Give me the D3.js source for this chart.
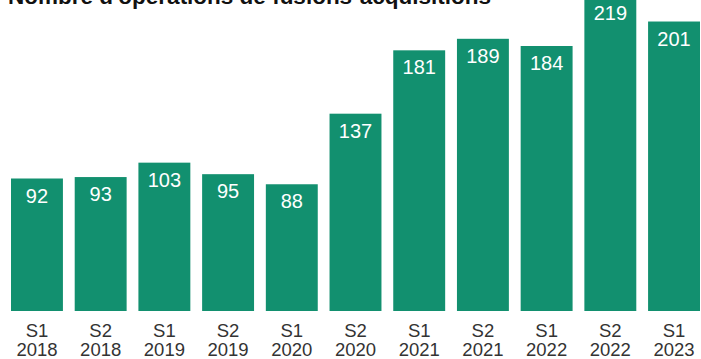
<!DOCTYPE html>
<html>
<head>
<meta charset="utf-8">
<script src="https://cdn.jsdelivr.net/npm/d3@7"></script>
<style>
  html, body { margin: 0; padding: 0; background: #fff; }
  svg { display: block; }
</style>
</head>
<body>
<svg id="chart" width="701" height="359"></svg>
<script>
// Semesters and deal counts
const semesters = ["S1", "S2", "S1", "S2", "S1", "S2", "S1", "S2", "S1", "S2", "S1"];
const years = ["2018", "2018", "2019", "2019", "2020", "2020", "2021", "2021", "2022", "2022", "2023"];
const deals = [92, 93, 103, 95, 88, 137, 181, 189, 184, 219, 201];

const title = "Nombre d'opérations de fusions-acquisitions";

const baseY = 311;
const font = "'Liberation Sans', Arial, sans-serif";

const svg = d3.select("#chart");
const periods = semesters.map((s, i) => s + " " + years[i]);

const x = d3.scaleBand()
  .domain(periods)
  .range([11, 700])
  .paddingInner(0.185)
  .paddingOuter(0);

const y = d3.scaleLinear()
  .domain([0, 92])
  .range([baseY, 178.5]);

const green = "#12906f";

svg.selectAll("rect.bar")
  .data(deals)
  .join("rect")
  .attr("class", "bar")
  .attr("x", (d, i) => x(periods[i]))
  .attr("width", x.bandwidth())
  .attr("y", d => y(d))
  .attr("height", d => baseY - y(d))
  .attr("fill", green);

svg.selectAll("text.val")
  .data(deals)
  .join("text")
  .attr("class", "val")
  .attr("x", (d, i) => x(periods[i]) + x.bandwidth() / 2)
  .attr("y", d => y(d) + 24)
  .attr("text-anchor", "middle")
  .attr("font-family", font)
  .attr("font-size", 20)
  .attr("fill", "#fff")
  .text(d => d);

// Category labels on two lines below the bars
const axis = d3.axisBottom(x).tickSize(0).tickPadding(0).tickFormat(() => "");
const gAxis = svg.append("g").attr("transform", `translate(0,${baseY})`).call(axis);
gAxis.select(".domain").remove();
gAxis.selectAll(".tick text").remove();
gAxis.selectAll(".tick").each(function (p, i) {
  const t = d3.select(this).append("text")
    .attr("text-anchor", "middle")
    .attr("font-family", font)
    .attr("font-size", 18.5)
    .attr("fill", "#333");
  t.append("tspan").attr("x", 0).attr("y", 25.5).text(semesters[i]);
  t.append("tspan").attr("x", 0).attr("y", 45).text(years[i]);
});

svg.append("text")
  .attr("x", 8)
  .attr("y", 3.5)
  .attr("font-family", font)
  .attr("font-size", 22.5)
  .attr("font-weight", "bold")
  .attr("fill", "#111")
  .text(title);
</script>
</body>
</html>
